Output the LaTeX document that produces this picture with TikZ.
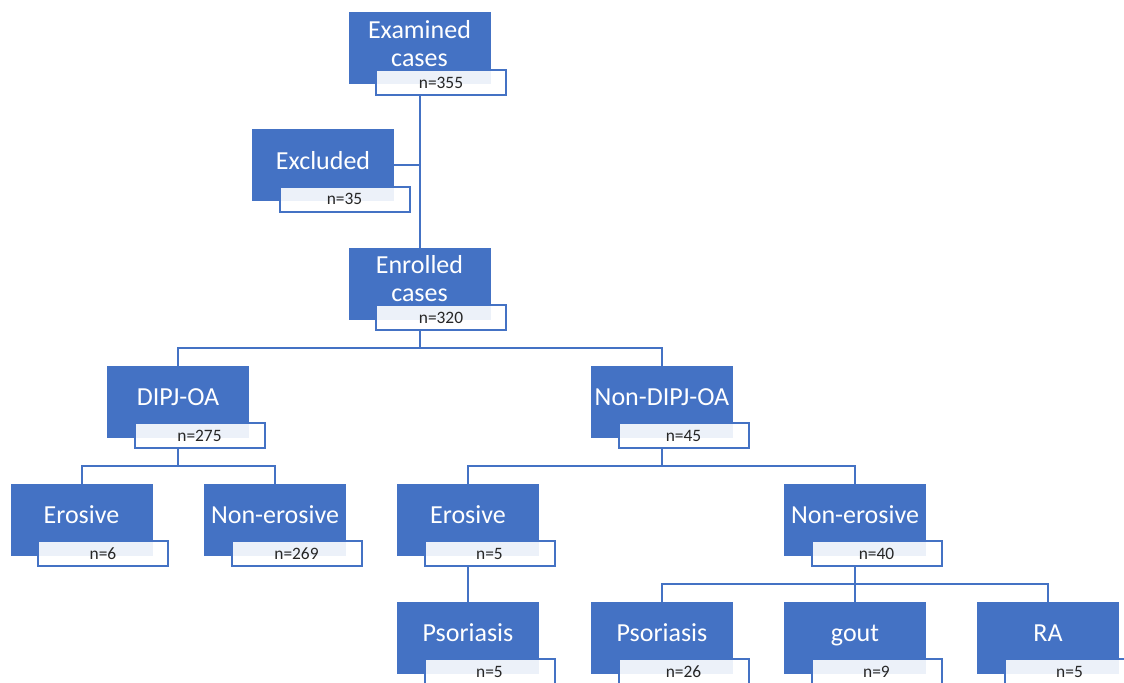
\documentclass[tikz,border=0pt]{standalone}
\usepackage{fontspec}
\setmainfont{Carlito}
\definecolor{boxblue}{HTML}{4472C4}

\begin{document}
\begin{tikzpicture}[x=0.5pt, y=-0.5pt,
    casebox/.style={fill=boxblue, draw=boxblue, line width=0.5pt, minimum width=70.5pt, minimum height=35.5pt, inner sep=0pt,
        text=white, font=\fontsize{13}{14}\selectfont, align=center, text height=9pt, text depth=5pt},
    casebox2/.style={casebox, text height=23pt},
    countbox/.style={draw=boxblue, line width=1pt, fill=white, fill opacity=0.9, text opacity=1,
        minimum width=65pt, minimum height=12.5pt, inner sep=0pt, font=\fontsize{8.7}{9}\selectfont, text=black!85},
    link/.style={draw=boxblue, line width=1pt}]

    \useasboundingbox (0,0) rectangle (1124,682);

    \node (exam)  [casebox2] at (419.5,48)  {Examined\\cases};
    \node (examn) [countbox] at (441,82.5)  {n=355};

    \node (excl)  [casebox]  at (323,165)   {Excluded};
    \node (excln) [countbox] at (344.5,199) {n=35};

    \node (enr)   [casebox2] at (419.5,283.5) {Enrolled\\cases};
    \node (enrn)  [countbox] at (441,317.5)   {n=320};

    \node (dipj)   [casebox]  at (178,401.5)   {DIPJ-OA};
    \node (dipjn)  [countbox] at (199.5,435.5) {n=275};
    \node (ndipj)  [casebox]  at (662,401.5)   {Non-DIPJ-OA};
    \node (ndipjn) [countbox] at (683.5,435.5) {n=45};

    \node (eroa)   [casebox]  at (81.5,519.5)  {Erosive};
    \node (eroan)  [countbox] at (103,553.5)   {n=6};
    \node (neroa)  [casebox]  at (275,519.5)   {Non-erosive};
    \node (neroan) [countbox] at (296.5,553.5) {n=269};
    \node (erob)   [casebox]  at (468,519.5)   {Erosive};
    \node (erobn)  [countbox] at (489.5,553.5) {n=5};
    \node (nerob)  [casebox]  at (855,519.5)   {Non-erosive};
    \node (nerobn) [countbox] at (876.5,553.5) {n=40};

    \node (psoa)  [casebox]  at (468,637.5)    {Psoriasis};
    \node (psoan) [countbox] at (489.5,671.5)  {n=5};
    \node (psob)  [casebox]  at (662,637.5)    {Psoriasis};
    \node (psobn) [countbox] at (683.5,671.5)  {n=26};
    \node (gout)  [casebox]  at (855,637.5)    {gout};
    \node (goutn) [countbox] at (876.5,671.5)  {n=9};
    \node (ra)    [casebox]  at (1048,637.5)   {RA};
    \node (ran)   [countbox] at (1069.5,671.5) {n=5};

    \draw[link] (examn.south -| exam.center) -- (enr.north);
    \draw[link] (excl.east) -- (excl.east -| exam.center);

    \draw[link] (enrn.south -| enr.center) -- ++(0,17) -| (dipj.north);
    \draw[link] (enrn.south -| enr.center) -- ++(0,17) -| (ndipj.north);

    \draw[link] (dipjn.south -| dipj.center) -- ++(0,17) -| (eroa.north);
    \draw[link] (dipjn.south -| dipj.center) -- ++(0,17) -| (neroa.north);
    \draw[link] (ndipjn.south -| ndipj.center) -- ++(0,17) -| (erob.north);
    \draw[link] (ndipjn.south -| ndipj.center) -- ++(0,17) -| (nerob.north);

    \draw[link] (erobn.south -| erob.center) -- (psoa.north);
    \draw[link] (nerobn.south -| nerob.center) -- ++(0,17) -| (psob.north);
    \draw[link] (nerobn.south -| nerob.center) -- (gout.north);
    \draw[link] (nerobn.south -| nerob.center) -- ++(0,17) -| (ra.north);

\end{tikzpicture}
\end{document}
